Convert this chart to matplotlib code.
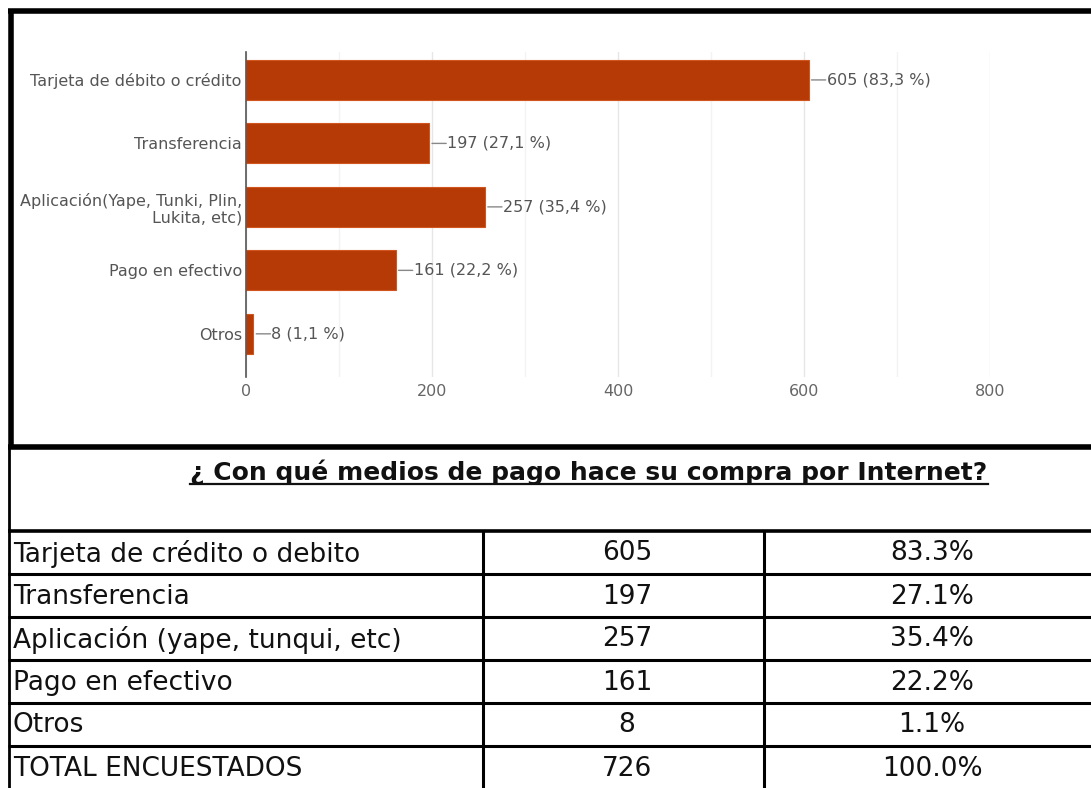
import matplotlib
matplotlib.use("Agg")
import matplotlib.pyplot as plt
from matplotlib.lines import Line2D
from matplotlib.patches import Rectangle

# ---------------- data ----------------
chart_categories = ["Tarjeta de débito o crédito", "Transferencia",
                    "Aplicación(Yape, Tunki, Plin,\nLukita, etc)", "Pago en efectivo", "Otros"]
chart_counts = [605, 197, 257, 161, 8]
chart_pct_labels = ["83,3 %", "27,1 %", "35,4 %", "22,2 %", "1,1 %"]
x_ticks = [0, 200, 400, 600, 800]

table_title = "¿ Con qué medios de pago hace su compra por Internet?"
table_rows = ["Tarjeta de crédito o debito", "Transferencia", "Aplicación (yape, tunqui, etc)",
              "Pago en efectivo", "Otros", "TOTAL ENCUESTADOS"]
table_counts = ["605", "197", "257", "161", "8", "726"]
table_pcts = ["83.3%", "27.1%", "35.4%", "22.2%", "1.1%", "100.0%"]

W, H = 1091, 788
fig = plt.figure(figsize=(W / 100, H / 100), dpi=100)
fig.patch.set_facecolor("white")

def fx(px):
    return px / W

def fy(py):
    return 1 - py / H

cfont = "DejaVu Sans"

# ---------------- bar chart ----------------
ax = fig.add_axes([fx(246), fy(377), fx(990) - fx(246), fy(52) - fy(377)])
ypos = list(range(len(chart_categories)))
ax.barh(ypos, chart_counts, height=0.63, color="#B53A06", edgecolor="#D0551E",
        linewidth=0.8, zorder=3)
ax.set_xlim(0, 800)
ax.set_ylim(4.68, -0.44)
ax.set_xticks(x_ticks)
ax.set_xticks([100, 300, 500, 700], minor=True)
ax.set_xticklabels([str(t) for t in x_ticks], color="#666666", fontsize=11.5,
                   family=cfont)
ax.tick_params(axis="x", which="both", length=0, pad=5)
ax.set_yticks(ypos)
ax.set_yticklabels(chart_categories, color="#555555", fontsize=11.5,
                   family=cfont, linespacing=1.1)
ax.tick_params(axis="y", length=0, pad=3)
ax.grid(axis="x", which="major", color="#E6E6E6", linewidth=1, zorder=0)
ax.grid(axis="x", which="minor", color="#F3F3F3", linewidth=1, zorder=0)
for s in ["top", "right", "bottom"]:
    ax.spines[s].set_visible(False)
ax.spines["left"].set_color("#555555")
ax.spines["left"].set_linewidth(1.2)
ax.spines["left"].set_zorder(4)

for i, (v, p) in enumerate(zip(chart_counts, chart_pct_labels)):
    ax.annotate("", xy=(v, i), xycoords="data", xytext=(17, 0), textcoords="offset pixels",
                arrowprops=dict(arrowstyle="-", color="#888888", lw=1,
                                shrinkA=0, shrinkB=2))
    ax.annotate(f"{v} ({p})", xy=(v, i), xytext=(18, 0), textcoords="offset pixels",
                ha="left", va="center", color="#555555", fontsize=11.5,
                family=cfont)

# ---------------- frame of chart ----------------
def hline(x0, x1, y, lw, color="black"):
    fig.add_artist(Line2D([fx(x0), fx(x1)], [fy(y), fy(y)], color=color, lw=lw,
                          solid_capstyle="butt", transform=fig.transFigure, zorder=5))

def vline(x, y0, y1, lw, color="black"):
    fig.add_artist(Line2D([fx(x), fx(x)], [fy(y0), fy(y1)], color=color, lw=lw,
                          solid_capstyle="butt", transform=fig.transFigure, zorder=5))

# white margin to clip long label on the left
fig.add_artist(Rectangle((0, fy(447)), fx(12), fy(0) - fy(447), facecolor="white",
                         edgecolor="none", transform=fig.transFigure, zorder=4))

hline(8, W, 11, 4)
hline(8, W, 447, 4)
vline(10.5, 9, 449, 4)

# ---------------- table ----------------
vline(9, 447, H, 2)
row_lines = [531, 574, 617, 660, 703, 746]
for i, y in enumerate(row_lines):
    hline(8, W, y, 2.6 if i == 0 else 2.2)
vline(483, 531, H, 2.2)
vline(764, 531, H, 2.2)

tfont = "DejaVu Sans"
title = fig.text(fx(589), fy(472), table_title, ha="center", va="center",
                 fontsize=18, fontweight="bold", family=tfont, color="#111111")
fig.canvas.draw()
bb = title.get_window_extent(fig.canvas.get_renderer())
fig.add_artist(Line2D([bb.x0 / W, bb.x1 / W], [(bb.y0 + 1) / H, (bb.y0 + 1) / H],
                      color="#111111", lw=1.6, transform=fig.transFigure))

row_h = 43
for i in range(len(table_rows)):
    yc = 531 + row_h * i + row_h / 2 + 1
    fig.text(fx(13), fy(yc), table_rows[i], ha="left", va="center", fontsize=19,
             family=tfont, color="#111111")
    fig.text(fx(627), fy(yc), table_counts[i], ha="center", va="center", fontsize=19,
             family=tfont, color="#111111")
    fig.text(fx(932), fy(yc), table_pcts[i], ha="center", va="center", fontsize=19,
             family=tfont, color="#111111")

fig.savefig("out.png", dpi=100)
